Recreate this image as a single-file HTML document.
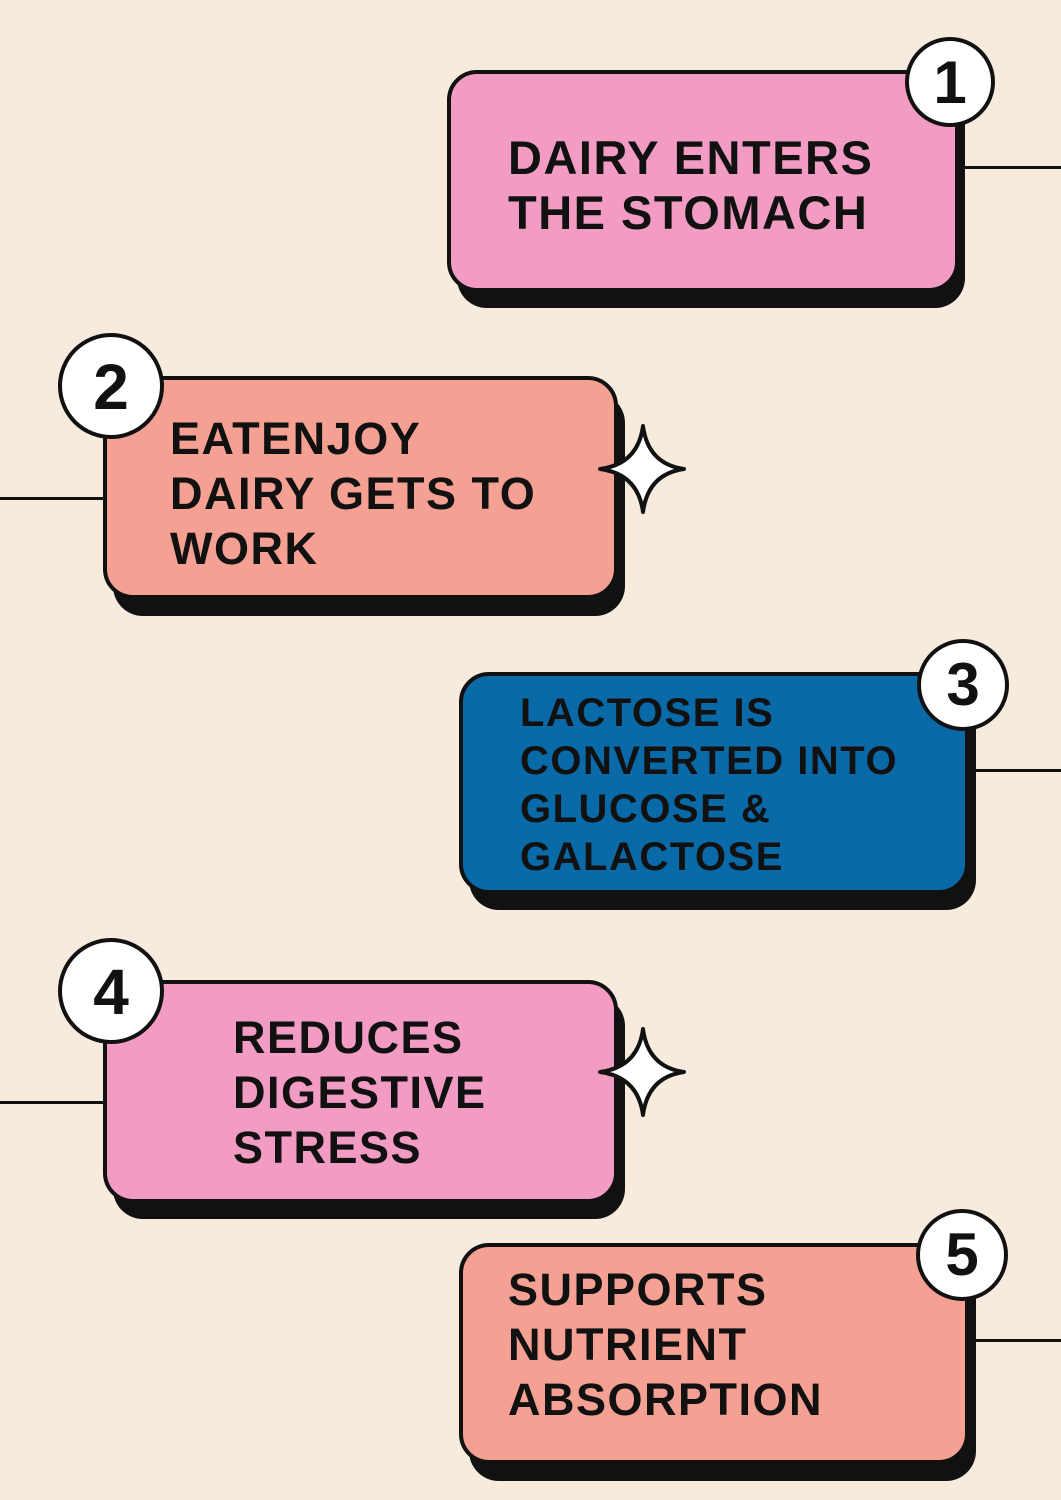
<!DOCTYPE html>
<html><head><style>
body{margin:0;width:1061px;height:1500px;background:#F6EBDD;position:relative;overflow:hidden;font-family:"Liberation Sans",sans-serif;}
.line{position:absolute;height:3px;background:#111;}
.sh{position:absolute;background:#111;border-radius:30px;}
.box{position:absolute;border:4px solid #111;border-radius:30px;box-sizing:border-box;}
.t{position:absolute;font-weight:bold;color:#111;letter-spacing:1.5px;white-space:nowrap;}
.c{position:absolute;width:90px;height:90px;border-radius:50%;background:#fff;border:4px solid #111;box-sizing:border-box;font-weight:bold;font-size:60px;text-align:center;line-height:84px;color:#111;}
svg{position:absolute;}
</style></head><body>
<div class="line" style="left:958px;top:166px;width:103px"></div>
<div class="line" style="left:0;top:497px;width:103px"></div>
<div class="line" style="left:968px;top:769px;width:93px"></div>
<div class="line" style="left:0;top:1101px;width:103px"></div>
<div class="line" style="left:968px;top:1339px;width:93px"></div>

<div class="sh" style="left:457px;top:86px;width:508px;height:222px"></div>
<div class="box" style="left:447px;top:70px;width:512px;height:222px;background:#F29CC4"></div>
<div class="t" style="left:508px;top:130px;font-size:47px;line-height:55px">DAIRY ENTERS<br>THE STOMACH</div>
<div class="c" style="left:905px;top:37px">1</div>

<div class="sh" style="left:113px;top:393px;width:512px;height:223px"></div>
<div class="box" style="left:103px;top:376px;width:515px;height:223px;background:#F4A092"></div>
<div class="t" style="left:170px;top:411px;font-size:45px;line-height:55px">EATENJOY<br>DAIRY GETS TO<br>WORK</div>
<div class="c" style="left:58px;top:333px;width:106px;height:106px;line-height:100px;font-size:64px">2</div>

<div class="sh" style="left:469px;top:688px;width:507px;height:222px"></div>
<div class="box" style="left:459px;top:672px;width:510px;height:222px;background:#0A6AA8"></div>
<div class="t" style="left:520px;top:689px;font-size:40px;line-height:48px">LACTOSE IS<br>CONVERTED INTO<br>GLUCOSE &amp;<br>GALACTOSE</div>
<div class="c" style="left:917px;top:639px;width:92px;height:92px">3</div>

<div class="sh" style="left:113px;top:996px;width:512px;height:223px"></div>
<div class="box" style="left:103px;top:980px;width:515px;height:223px;background:#F29CC4"></div>
<div class="t" style="left:233px;top:1010px;font-size:45px;line-height:55px">REDUCES<br>DIGESTIVE<br>STRESS</div>
<div class="c" style="left:58px;top:938px;width:106px;height:106px;line-height:100px;font-size:64px">4</div>

<div class="sh" style="left:469px;top:1259px;width:507px;height:222px"></div>
<div class="box" style="left:459px;top:1243px;width:510px;height:221px;background:#F4A092"></div>
<div class="t" style="left:508px;top:1262px;font-size:45px;line-height:55px">SUPPORTS<br>NUTRIENT<br>ABSORPTION</div>
<div class="c" style="left:916px;top:1209px;width:92px;height:92px">5</div>

<svg style="left:596px;top:422px" width="94" height="94" viewBox="0 0 94 94"><path d="M47 4 Q52 42 88 47 Q52 52 47 90 Q42 52 4 47 Q42 42 47 4Z" fill="#fff" stroke="#111" stroke-width="4" stroke-linejoin="round"/></svg>
<svg style="left:596px;top:1025px" width="94" height="94" viewBox="0 0 94 94"><path d="M47 4 Q52 42 88 47 Q52 52 47 90 Q42 52 4 47 Q42 42 47 4Z" fill="#fff" stroke="#111" stroke-width="4" stroke-linejoin="round"/></svg>
</body></html>
